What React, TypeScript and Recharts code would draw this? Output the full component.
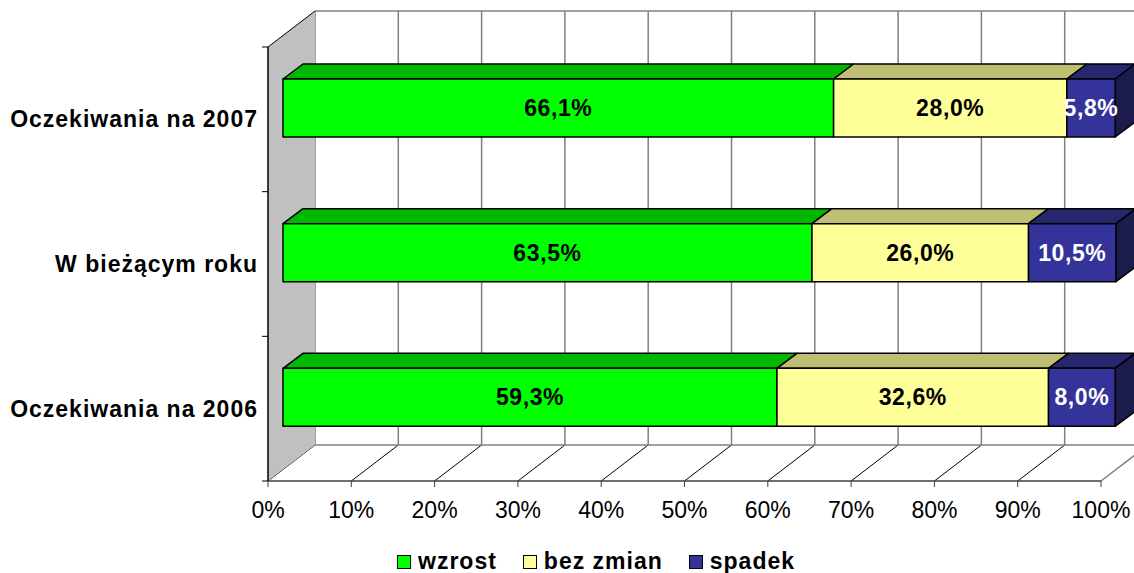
import { BarChart, Bar, XAxis, YAxis, CartesianGrid, LabelList, Customized } from "recharts";

const categories = ["Oczekiwania na 2007", "W bieżącym roku", "Oczekiwania na 2006"];
const wzrost = [66.1, 63.5, 59.3];
const bezZmian = [28.0, 26.0, 32.6];
const spadek = [5.8, 10.5, 8.0];
const xTicks = [0, 10, 20, 30, 40, 50, 60, 70, 80, 90, 100];

const data = categories.map((name, i) => ({
  name,
  wzrost: wzrost[i],
  bezZmian: bezZmian[i],
  spadek: spadek[i],
}));

const FONT = '"Liberation Sans", Arial, sans-serif';
const W = 1134;
const H = 573;
// front plane of the plot
const L = 268;
const T = 47;
const R = 1101;
const B = 481;
// depth of the 3d box
const DX = 47;
const DY = -36;
// bar front face offset and bar depth
const FX = 15;
const FY = -11;
const BX = 20;
const BY = -15;

const fmt = (v: number) => v.toFixed(1).replace(".", ",") + "%";

function makeShape(front: string, top: string, side?: string) {
  return (p: any) => {
    const x = p.x + FX;
    const y = p.y + FY;
    const w = p.width;
    const h = p.height;
    if (!w || w <= 0) return <g />;
    return (
      <g stroke="#000" strokeWidth={1.5} strokeLinejoin="round">
        <polygon
          points={`${x},${y} ${x + BX},${y + BY} ${x + w + BX},${y + BY} ${x + w},${y}`}
          fill={top}
        />
        {side && (
          <polygon
            points={`${x + w},${y} ${x + w + BX},${y + BY} ${x + w + BX},${y + h + BY} ${x + w},${y + h}`}
            fill={side}
          />
        )}
        <rect x={x} y={y} width={w} height={h} fill={front} />
      </g>
    );
  };
}

const makeLabel = (color: string) => (p: any) => {
  const x = p.x + FX + p.width / 2;
  const y = p.y + FY + p.height / 2;
  return (
    <text
      x={x}
      y={y}
      textAnchor="middle"
      dominantBaseline="central"
      fill={color}
      fontFamily={FONT}
      fontWeight="bold"
      fontSize={23}
      letterSpacing={0.6}
    >
      {fmt(p.value)}
    </text>
  );
};

const Frame = () => (
  <g>
    <polygon
      points={`${L},${T} ${L + DX},${T + DY} ${L + DX},${B + DY} ${L},${B}`}
      fill="#C0C0C0"
    />
    <line x1={L} y1={T} x2={L + DX} y2={T + DY} stroke="#000" strokeWidth={1} />
    <line x1={L + DX} y1={T + DY} x2={R + DX} y2={T + DY} stroke="#808080" strokeWidth={1.5} />
    <line x1={L + DX} y1={B + DY} x2={R + DX} y2={B + DY} stroke="#808080" strokeWidth={1.5} />
  </g>
);

const gridLine = (p: any) => (
  <g key={`v-${p.x1}`}>
    <line x1={p.x1 + DX} y1={p.y1 + DY} x2={p.x2 + DX} y2={p.y2 + DY} stroke="#808080" strokeWidth={1.5} />
    <line
      x1={p.x1}
      y1={p.y2}
      x2={p.x1 + DX}
      y2={p.y2 + DY}
      stroke={p.x1 >= R - 1 ? "#808080" : "#000"}
      strokeWidth={p.x1 >= R - 1 ? 1.5 : 1}
    />
  </g>
);

const CatTick = (p: any) => {
  const band = (B - T) / categories.length;
  const last = p.index === categories.length - 1;
  return (
    <g>
      <line x1={L - 6} y1={p.y - band / 2} x2={L} y2={p.y - band / 2} stroke="#000" />
      {last && <line x1={L - 6} y1={p.y + band / 2} x2={L} y2={p.y + band / 2} stroke="#000" />}
      <text
        x={L - 10}
        y={p.y}
        textAnchor="end"
        dominantBaseline="central"
        fill="#000"
        fontFamily={FONT}
        fontWeight="bold"
        fontSize={23}
        letterSpacing={1}
      >
        {p.payload.value}
      </text>
    </g>
  );
};

const legendItems = [
  { label: "wzrost", color: "#00FF00" },
  { label: "bez zmian", color: "#FFFF99" },
  { label: "spadek", color: "#333399" },
];

export default function App() {
  return (
    <div style={{ position: "absolute", left: 0, top: 0, width: W, height: H, background: "#fff" }}>
      <BarChart
        width={W}
        height={H}
        data={data}
        layout="vertical"
        barSize={58}
        margin={{ top: T, right: W - R, left: 0, bottom: 52 }}
      >
        <Customized component={<Frame />} />
        <CartesianGrid horizontal={false} vertical={gridLine} />
        <XAxis
          type="number"
          domain={[0, 100]}
          ticks={xTicks}
          interval={0}
          height={40}
          tickFormatter={(v) => `${v}%`}
          tick={{ fill: "#000", fontSize: 23, fontFamily: FONT }}
          tickSize={6}
          tickMargin={15}
          axisLine={{ stroke: "#404040", strokeWidth: 1.5 }}
          tickLine={{ stroke: "#404040" }}
        />
        <YAxis
          type="category"
          dataKey="name"
          width={L}
          tick={<CatTick />}
          tickLine={false}
          axisLine={{ stroke: "#000", strokeWidth: 1.5 }}
        />
        <Bar dataKey="wzrost" stackId="s" isAnimationActive={false} shape={makeShape("#00FF00", "#00B800")}>
          <LabelList dataKey="wzrost" content={makeLabel("#000")} />
        </Bar>
        <Bar dataKey="bezZmian" stackId="s" isAnimationActive={false} shape={makeShape("#FFFF99", "#BFBF73")}>
          <LabelList dataKey="bezZmian" content={makeLabel("#000")} />
        </Bar>
        <Bar dataKey="spadek" stackId="s" isAnimationActive={false} shape={makeShape("#333399", "#27276F", "#1C1C4C")}>
          <LabelList dataKey="spadek" content={makeLabel("#fff")} />
        </Bar>
      </BarChart>
      <div
        style={{
          position: "absolute",
          left: 397,
          top: 548,
          display: "flex",
          alignItems: "center",
          fontFamily: FONT,
          fontWeight: "bold",
          fontSize: 23,
          letterSpacing: 1,
          color: "#000",
        }}
      >
        {legendItems.map((it) => (
          <div key={it.label} style={{ display: "flex", alignItems: "center", marginRight: 26 }}>
            <span
              style={{
                display: "inline-block",
                width: 12,
                height: 12,
                border: "1px solid #000",
                background: it.color,
                marginRight: 7,
              }}
            />
            <span>{it.label}</span>
          </div>
        ))}
      </div>
    </div>
  );
}
